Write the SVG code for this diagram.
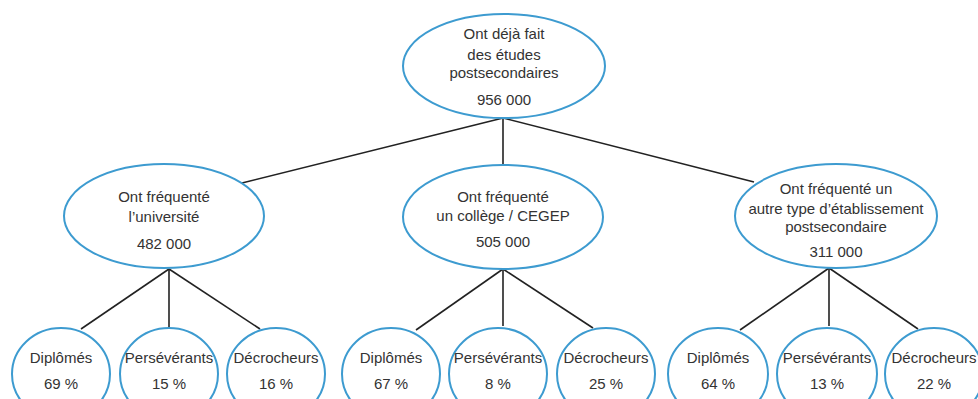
<svg xmlns="http://www.w3.org/2000/svg" width="978" height="399" viewBox="0 0 978 399">
<style>
.n ellipse{fill:#fff;stroke:#3d9bd0;stroke-width:2}
.c line{stroke:#222;stroke-width:1.6}
text{font-family:"Liberation Sans",Arial,sans-serif;font-size:15px;fill:#333;text-anchor:middle}
</style>
<rect width="978" height="399" fill="#fff"/>
<g class="c" id="connectors">
<line x1="503" y1="118" x2="242" y2="183"/>
<line x1="503" y1="118" x2="503" y2="165"/>
<line x1="503" y1="118" x2="754" y2="182"/>
<line x1="169" y1="269" x2="81" y2="329"/>
<line x1="169" y1="269" x2="169" y2="327"/>
<line x1="169" y1="269" x2="260" y2="329"/>
<line x1="503" y1="269" x2="416" y2="330"/>
<line x1="503" y1="269" x2="503" y2="326"/>
<line x1="503" y1="269" x2="593" y2="328"/>
<line x1="829" y1="268" x2="740" y2="330"/>
<line x1="829" y1="268" x2="829" y2="326"/>
<line x1="829" y1="268" x2="918" y2="329"/>
</g>
<g class="n" id="root">
<ellipse cx="504" cy="66" rx="101" ry="52"/>
<text x="504" y="39">Ont déjà fait</text>
<text x="504" y="60">des études</text>
<text x="504" y="78">postsecondaires</text>
<text x="504" y="105">956 000</text>
</g>
<g class="n" id="universite">
<ellipse cx="164" cy="216" rx="100" ry="52"/>
<text x="164" y="202">Ont fréquenté</text>
<text x="164" y="222">l’université</text>
<text x="164" y="249">482 000</text>
</g>
<g class="n" id="college">
<ellipse cx="503" cy="217" rx="100" ry="52"/>
<text x="503" y="202">Ont fréquenté</text>
<text x="503" y="221">un collège / CEGEP</text>
<text x="503" y="247">505 000</text>
</g>
<g class="n" id="autre">
<ellipse cx="836" cy="216" rx="101" ry="52"/>
<text x="836" y="194">Ont fréquenté un</text>
<text x="836" y="214">autre type d’établissement</text>
<text x="836" y="232">postsecondaire</text>
<text x="836" y="257">311 000</text>
</g>
<g class="n" id="u-diplomes">
<ellipse cx="61" cy="374" rx="49" ry="46"/>
<text x="61" y="363">Diplômés</text>
<text x="61" y="389">69 %</text>
</g>
<g class="n" id="u-perseverants">
<ellipse cx="169" cy="374" rx="49" ry="46"/>
<text x="169" y="363">Persévérants</text>
<text x="169" y="389">15 %</text>
</g>
<g class="n" id="u-decrocheurs">
<ellipse cx="276" cy="374" rx="49" ry="46"/>
<text x="276" y="363">Décrocheurs</text>
<text x="276" y="389">16 %</text>
</g>
<g class="n" id="c-diplomes">
<ellipse cx="391" cy="374" rx="49" ry="46"/>
<text x="391" y="363">Diplômés</text>
<text x="391" y="389">67 %</text>
</g>
<g class="n" id="c-perseverants">
<ellipse cx="498" cy="374" rx="49" ry="46"/>
<text x="498" y="363">Persévérants</text>
<text x="498" y="389">8 %</text>
</g>
<g class="n" id="c-decrocheurs">
<ellipse cx="606" cy="374" rx="49" ry="46"/>
<text x="606" y="363">Décrocheurs</text>
<text x="606" y="389">25 %</text>
</g>
<g class="n" id="a-diplomes">
<ellipse cx="718" cy="374" rx="50" ry="46"/>
<text x="718" y="363">Diplômés</text>
<text x="718" y="389">64 %</text>
</g>
<g class="n" id="a-perseverants">
<ellipse cx="827" cy="374" rx="50" ry="46"/>
<text x="827" y="363">Persévérants</text>
<text x="827" y="389">13 %</text>
</g>
<g class="n" id="a-decrocheurs">
<ellipse cx="934" cy="374" rx="49" ry="46"/>
<text x="934" y="363">Décrocheurs</text>
<text x="934" y="389">22 %</text>
</g>
</svg>
